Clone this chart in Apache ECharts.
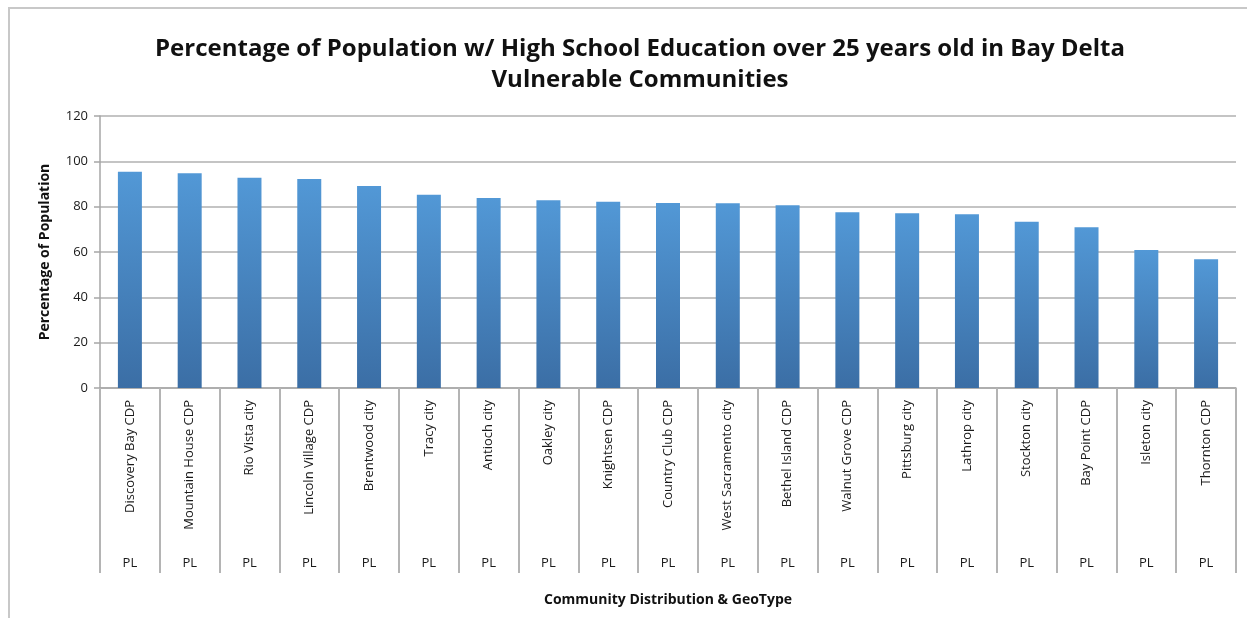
<!DOCTYPE html>
<html>
<head>
<meta charset="utf-8">
<script src="https://cdn.jsdelivr.net/npm/echarts@6/dist/echarts.min.js"></script>
<style>
  html, body { margin: 0; padding: 0; background: #ffffff; }
  #chart { width: 1247px; height: 618px; }
</style>
</head>
<body>
<div id="chart"></div>
<script>
// Communities, ordered by share of residents 25+ with a high school education
const communities = [
  'Discovery Bay CDP', 'Mountain House CDP', 'Rio Vista city', 'Lincoln Village CDP',
  'Brentwood city', 'Tracy city', 'Antioch city', 'Oakley city', 'Knightsen CDP',
  'Country Club CDP', 'West Sacramento city', 'Bethel Island CDP', 'Walnut Grove CDP',
  'Pittsburg city', 'Lathrop city', 'Stockton city', 'Bay Point CDP', 'Isleton city',
  'Thornton CDP'
];
// Geography type of each community (PL = place)
const geoTypes = ['PL', 'PL', 'PL', 'PL', 'PL', 'PL', 'PL', 'PL', 'PL', 'PL',
  'PL', 'PL', 'PL', 'PL', 'PL', 'PL', 'PL', 'PL', 'PL'];
// Percentage of population with high school education
const highSchoolPct = [95.4, 94.7, 92.8, 92.2, 89.1, 85.3, 83.8, 82.8, 82.2, 81.6,
  81.5, 80.6, 77.5, 77.1, 76.7, 73.4, 70.9, 60.9, 56.8];
// Value axis ticks
const yTicks = [0, 20, 40, 60, 80, 100, 120];

const labelFont = "'Open Sans', 'Liberation Sans', sans-serif";
const titleFont = "'Open Sans', sans-serif";
const gridColor = '#c4c4c4';

const chart = echarts.init(document.getElementById('chart'), null, { renderer: 'canvas' });

chart.setOption({
  backgroundColor: '#ffffff',
  animation: false,
  title: {
    text: 'Percentage of Population w/ High School Education over 25 years old in Bay Delta\nVulnerable Communities',
    left: 635,
    top: 29,
    textAlign: 'center',
    textStyle: {
      fontFamily: titleFont,
      fontWeight: 'bold',
      fontSize: 24,
      lineHeight: 31,
      color: '#111111'
    }
  },
  graphic: [{
    type: 'rect',
    shape: { x: 9, y: 8, width: 1400, height: 800 },
    style: { fill: 'none', stroke: '#c8c8c8', lineWidth: 2 },
    silent: true
  }],
  grid: { left: 100, right: 11, top: 116, bottom: 230 },
  xAxis: [{
    type: 'category',
    data: communities,
    position: 'bottom',
    name: 'Community Distribution & GeoType',
    nameLocation: 'middle',
    nameGap: 205,
    nameTextStyle: { fontFamily: labelFont, fontWeight: 'bold', fontSize: 14, color: '#111111' },
    axisLine: { show: true, lineStyle: { color: '#a6a6a6', width: 1.5 } },
    axisTick: { show: true, interval: 0, alignWithLabel: false, length: 185, lineStyle: { color: '#b4b4b4', width: 2 } },
    axisLabel: {
      interval: 0,
      rotate: 90,
      margin: 12,
      fontFamily: labelFont,
      fontSize: 13,
      color: '#1a1a1a'
    },
    splitLine: { show: false }
  }, {
    type: 'category',
    data: geoTypes,
    position: 'bottom',
    axisLine: { show: false },
    axisTick: { show: false },
    axisLabel: {
      interval: 0,
      margin: 169,
      fontFamily: labelFont,
      fontSize: 13,
      color: '#1a1a1a'
    },
    splitLine: { show: false }
  }],
  yAxis: {
    type: 'value',
    min: yTicks[0],
    max: yTicks[yTicks.length - 1],
    interval: 20,
    name: 'Percentage of Population',
    nameLocation: 'middle',
    nameGap: 48,
    nameTextStyle: { fontFamily: labelFont, fontWeight: 'bold', fontSize: 14, color: '#111111' },
    axisLine: { show: true, lineStyle: { color: '#a6a6a6', width: 1.5 } },
    axisTick: { show: true, length: 6, lineStyle: { color: '#a6a6a6', width: 1.5 } },
    axisLabel: { margin: 12, fontFamily: labelFont, fontSize: 13, color: '#1a1a1a' },
    splitLine: { show: true, lineStyle: { color: gridColor, width: 2 } }
  },
  series: [{
    type: 'bar',
    data: highSchoolPct,
    xAxisIndex: 0,
    barWidth: 24,
    itemStyle: {
      color: new echarts.graphic.LinearGradient(0, 0, 0, 1, [
        { offset: 0, color: '#5298d6' },
        { offset: 1, color: '#3b6ea5' }
      ])
    }
  }]
});
</script>
</body>
</html>
